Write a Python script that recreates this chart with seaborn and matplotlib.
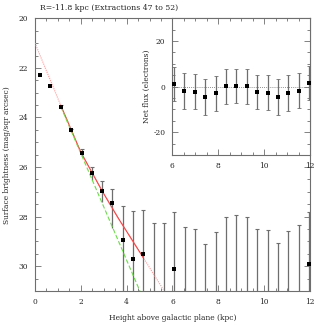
import numpy as np
import pandas as pd
import matplotlib
matplotlib.use("Agg")
import matplotlib.pyplot as plt
import seaborn as sns
from matplotlib.ticker import MultipleLocator

# Height above the plane (kpc) for each extraction
height = [0.22, 0.67, 1.12, 1.58, 2.03, 2.48, 2.94, 3.38, 3.83, 4.28, 4.73, 5.18, 5.63,
          6.08, 6.53, 6.98, 7.44, 7.89, 8.34, 8.79, 9.24, 9.70, 10.15, 10.60, 11.05, 11.50, 11.95]
nan = np.nan
# Surface brightness (mag/sqr arcsec); nan where the flux is not positive
sb = [22.27, 22.73, 23.57, 24.52, 25.44, 26.24, 26.98, 27.44, 28.94, 29.70, 29.50, nan, nan,
      30.12, nan, nan, nan, nan, nan, nan, nan, nan, nan, nan, nan, nan, 29.92]
# bright and faint end of each error bar
sb_bright = [nan, nan, 23.51, 24.45, 25.29, 26.01, 26.58, 26.87, 27.58, 27.76, 27.72, 28.27, 28.27,
             27.81, 28.40, 28.48, 29.12, 28.60, 28.03, 27.94, 28.03, 28.48, 28.52, 29.08, 28.56, 28.34, 27.81]
sb_faint = [nan, nan, 23.63, 24.60, 25.57, 26.51, 27.40, 28.47, 32.0, 32.0, 32.0, 32.0, 32.0,
            32.0, 32.0, 32.0, 32.0, 32.0, 32.0, 32.0, 32.0, 32.0, 32.0, 32.0, 32.0, 32.0, 32.0]

# model curve (red) and straight fit (green)
fit_height = [0.0, 1.12, 2.0, 2.94, 3.64, 4.73, 5.6]
fit_sb = [21.0, 23.5, 25.4, 26.98, 28.07, 29.66, 30.94]
lin_height = [1.12, 4.60]
lin_sb = [23.55, 31.05]

# inset: net flux of the outer extractions
inset_height = height[13:]
net_flux = [1.2, -2.0, -2.3, -4.6, -2.9, 0.1, 0.4, 0.1, -2.3, -2.6, -4.6, -2.8, -1.7, 1.6]
net_flux_err = [7.5, 7.8, 7.7, 7.8, 7.7, 7.7, 7.5, 7.7, 7.6, 7.5, 7.8, 7.7, 7.7, 7.5]

sns.set_style("ticks")
plt.rcParams['font.family'] = ['DejaVu Serif']
plt.rcParams['font.size'] = 5.4
plt.rcParams['axes.unicode_minus'] = False

grey = '#6e6e6e'
df = pd.DataFrame({'z': height, 'sb': sb})
dfin = pd.DataFrame({'z': inset_height, 'flux': net_flux})

fig = plt.figure(figsize=(3.27, 3.27), dpi=100)
ax = fig.add_axes([0.107, 0.110, 0.841, 0.834])

# error bars
ax.vlines(height, sb_bright, sb_faint, color=grey, lw=0.9, zorder=2)
ax.scatter(height, sb_bright, marker='_', s=6, color=grey, lw=0.8, zorder=2)

# fits
sns.lineplot(x=fit_height, y=fit_sb, ax=ax, color='#ff9a9a', lw=0.8, linestyle=(0, (1, 1)), zorder=3)
sns.lineplot(x=fit_height[1:6], y=fit_sb[1:6], ax=ax, color='#ff4040', lw=0.8, zorder=3)
sns.lineplot(x=lin_height, y=lin_sb, ax=ax, color='#66e040', lw=0.8, linestyle=(0, (4, 2)), zorder=3)

sns.scatterplot(data=df, x='z', y='sb', ax=ax, marker='s', s=8, color='black', linewidth=0, zorder=4)

ax.set_xlim(0, 12)
ax.set_ylim(31, 20)
ax.xaxis.set_major_locator(MultipleLocator(2))
ax.xaxis.set_minor_locator(MultipleLocator(0.5))
ax.yaxis.set_major_locator(MultipleLocator(2))
ax.yaxis.set_minor_locator(MultipleLocator(0.5))
ax.set_xlabel('Height above galactic plane (kpc)', labelpad=6)
ax.set_ylabel('Surface brightness (mag/sqr arcsec)', labelpad=5)
fig.text(0.122, 0.975, 'R=-11.8 kpc (Extractions 47 to 52)', fontsize=5.6, va='center', ha='left')

def style(a):
    for s in a.spines.values():
        s.set_color(grey)
        s.set_linewidth(0.8)
    a.tick_params(which='both', direction='in', top=True, right=True, color=grey, width=0.6)
    a.tick_params(which='major', length=4, pad=5)
    a.tick_params(which='minor', length=2)

style(ax)

# inset
axin = fig.add_axes([0.527, 0.526, 0.421, 0.418])
axin.set_facecolor('white')
axin.axhline(0, color=grey, lw=0.6, linestyle=(0, (1, 1.5)), zorder=1)
axin.errorbar(inset_height, net_flux, yerr=net_flux_err, fmt='none', ecolor=grey,
              elinewidth=0.9, capsize=1.5, capthick=0.6, zorder=2)
sns.scatterplot(data=dfin, x='z', y='flux', ax=axin, marker='s', s=8, color='black',
                linewidth=0, zorder=4)
axin.set_xlim(6, 12)
axin.set_ylim(-30, 30)
axin.xaxis.set_major_locator(MultipleLocator(2))
axin.xaxis.set_minor_locator(MultipleLocator(0.5))
axin.yaxis.set_major_locator(MultipleLocator(20))
axin.yaxis.set_minor_locator(MultipleLocator(5))
axin.set_xlabel('')
axin.set_ylabel('Net flux (electrons)', labelpad=2)
style(axin)

fig.savefig('out.png', dpi=100)
